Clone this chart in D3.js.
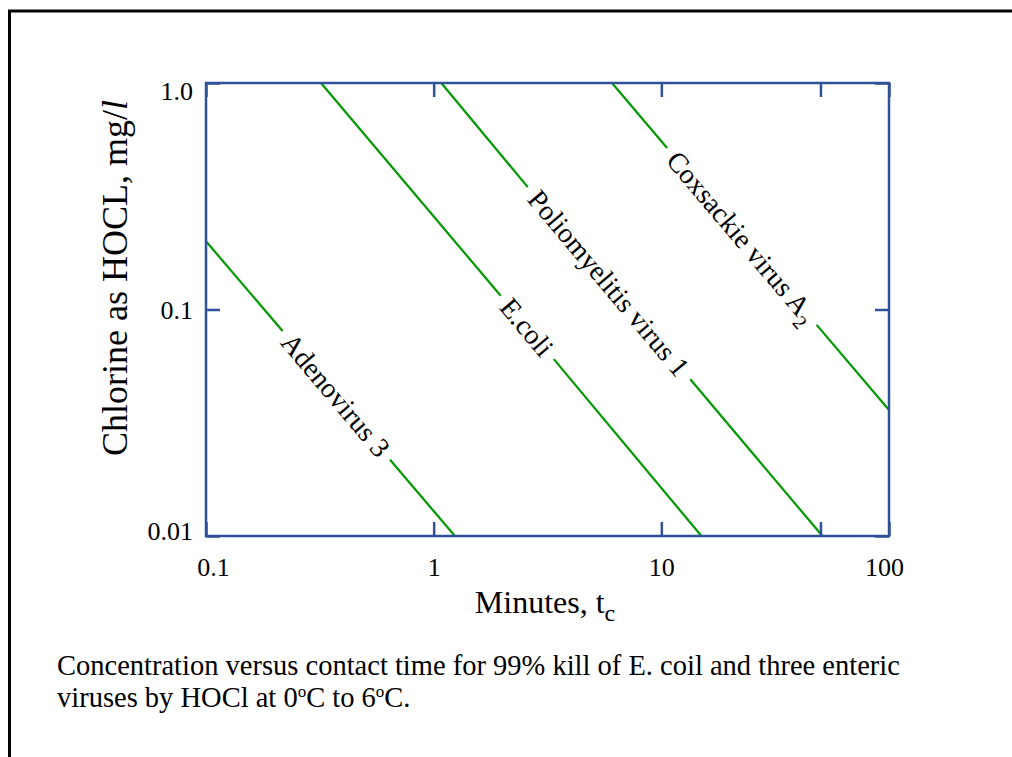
<!DOCTYPE html>
<html>
<head>
<meta charset="utf-8">
<script src="https://cdn.jsdelivr.net/npm/d3@7"></script>
<style>
  html, body { margin: 0; padding: 0; background: #fff; }
  svg text { font-family: "Liberation Serif", "Times New Roman", serif; fill: #000; }
</style>
</head>
<body>
<svg id="chart" width="1012" height="757"></svg>
<script>
"use strict";

// tick values
const xTicks = [0.1, 1, 10, 50, 100];
const xTickLabels = ["0.1", "1", "10", "", "100"];
const yTicks = [0.01, 0.1, 1];
const yTickLabels = ["0.01", "0.1", "1.0"];

// series names
const names = ["Adenovirus 3", "E.coli", "Poliomyelitis virus 1", "Coxsackie virus A"];
const subs = ["", "", "", "2"];

// line pieces [t, C] (a gap where the label sits)
const adenovirus = [[[0.1, 0.2], [0.217, 0.0804]], [[0.643, 0.0217], [1.24, 0.01]]];
const ecoli = [[[0.32, 1.0], [1.97, 0.115]], [[3.37, 0.0604], [15.0, 0.01]]];
const polio = [[[1.08, 1.0], [2.59, 0.347]], [[13.4, 0.0492], [51, 0.01]]];
const coxsackie = [[[6.07, 1.0], [10.6, 0.516]], [[48.1, 0.0855], [100, 0.036]]];

// label centres [t, C]
const labelAt = [[0.372, 0.042], [2.57, 0.0837], [5.89, 0.131], [22.6, 0.209]];

const serif = "'Liberation Serif', 'Times New Roman', serif";
const svg = d3.select("#chart");
const blue = "#2f5198";
const green = "#009a00";

// outer frame (runs off the right and bottom of the page)
svg.append("rect")
  .attr("x", 9.5).attr("y", 11)
  .attr("width", 1100).attr("height", 900)
  .attr("fill", "none").attr("stroke", "#000").attr("stroke-width", 3);

const pLeft = 206, pRight = 889, pTop = 83, pBottom = 536;
const x = d3.scaleLog().domain([0.1, 100]).range([pLeft, pRight]);
const y = d3.scaleLog().domain([0.01, 1]).range([pBottom, pTop]);

const line = d3.line().x(d => x(d[0])).y(d => y(d[1]));
const series = [adenovirus, ecoli, polio, coxsackie];

series.forEach((pieces, i) => {
  pieces.forEach(p => {
    svg.append("path")
      .attr("d", line(p))
      .attr("fill", "none")
      .attr("stroke", green)
      .attr("stroke-width", 2.2);
  });
  const a = pieces[0][0], b = pieces[1][1];
  const ang = Math.atan2(y(b[1]) - y(a[1]), x(b[0]) - x(a[0])) * 180 / Math.PI;
  const lx = x(labelAt[i][0]), ly = y(labelAt[i][1]);
  const t = svg.append("text")
    .attr("transform", `translate(${lx},${ly}) rotate(${ang})`)
    .attr("text-anchor", "middle")
    .attr("dy", "0.35em")
    .style("font-family", serif)
    .style("font-size", "28px")
    .text(names[i]);
  if (subs[i]) {
    t.append("tspan").attr("dy", 8).style("font-size", "20px").text(subs[i]);
  }
});

// axes
const xb = svg.append("g").attr("transform", `translate(0,${pBottom})`)
  .call(d3.axisBottom(x).tickValues(xTicks).tickSize(-14).tickPadding(22)
    .tickFormat((d, i) => xTickLabels[i]));
const xt = svg.append("g").attr("transform", `translate(0,${pTop})`)
  .call(d3.axisTop(x).tickValues(xTicks).tickSize(-14).tickFormat(""));
const yl = svg.append("g").attr("transform", `translate(${pLeft},0)`)
  .call(d3.axisLeft(y).tickValues(yTicks).tickSize(-14).tickPadding(13)
    .tickFormat((d, i) => yTickLabels[i]));
const yr = svg.append("g").attr("transform", `translate(${pRight},0)`)
  .call(d3.axisRight(y).tickValues(yTicks).tickSize(-14).tickFormat(""));

[xb, xt, yl, yr].forEach(g => {
  g.select(".domain").remove();
  g.selectAll(".tick line").attr("stroke", blue).attr("stroke-width", 2.5);
  g.selectAll(".tick text")
    .style("font-family", serif)
    .style("font-size", "26px").attr("fill", "#000");
});
xb.selectAll(".tick text").attr("dx", (d) => d === 0.1 ? 7 : (d === 100 ? -5 : 0));
yl.selectAll(".tick text").attr("dy", (d) => d === 1 ? "0.62em" : (d === 0.01 ? "0.12em" : "0.35em"));

// plot frame
svg.append("rect")
  .attr("x", pLeft).attr("y", pTop)
  .attr("width", pRight - pLeft).attr("height", pBottom - pTop)
  .attr("fill", "none").attr("stroke", blue).attr("stroke-width", 2.5);

// axis titles
const xTitle = svg.append("text")
  .attr("x", 545).attr("y", 613)
  .attr("text-anchor", "middle")
  .style("font-family", serif)
  .style("font-size", "32px")
  .text("Minutes, t");
xTitle.append("tspan").attr("dy", 8).style("font-size", "24px").text("c");

const yTitle = svg.append("text")
  .attr("transform", "translate(127,278) rotate(-90)")
  .attr("text-anchor", "middle")
  .style("font-family", serif)
  .style("font-size", "36px")
  .text("Chlorine as HOCL, mg/");
yTitle.append("tspan").style("font-style", "italic").text("l");

// caption
const cap = svg.append("g").style("font-family", serif).style("font-size", "28.5px");
cap.append("text").attr("x", 57).attr("y", 675)
  .text("Concentration versus contact time for 99% kill of E. coil and three enteric");
const c2 = cap.append("text").attr("x", 57).attr("y", 707).text("viruses by HOCl at 0");
c2.append("tspan").attr("dy", -10).style("font-size", "17px").text("o");
c2.append("tspan").attr("dy", 10).text("C to 6");
c2.append("tspan").attr("dy", -10).style("font-size", "17px").text("o");
c2.append("tspan").attr("dy", 10).text("C.");
</script>
</body>
</html>
